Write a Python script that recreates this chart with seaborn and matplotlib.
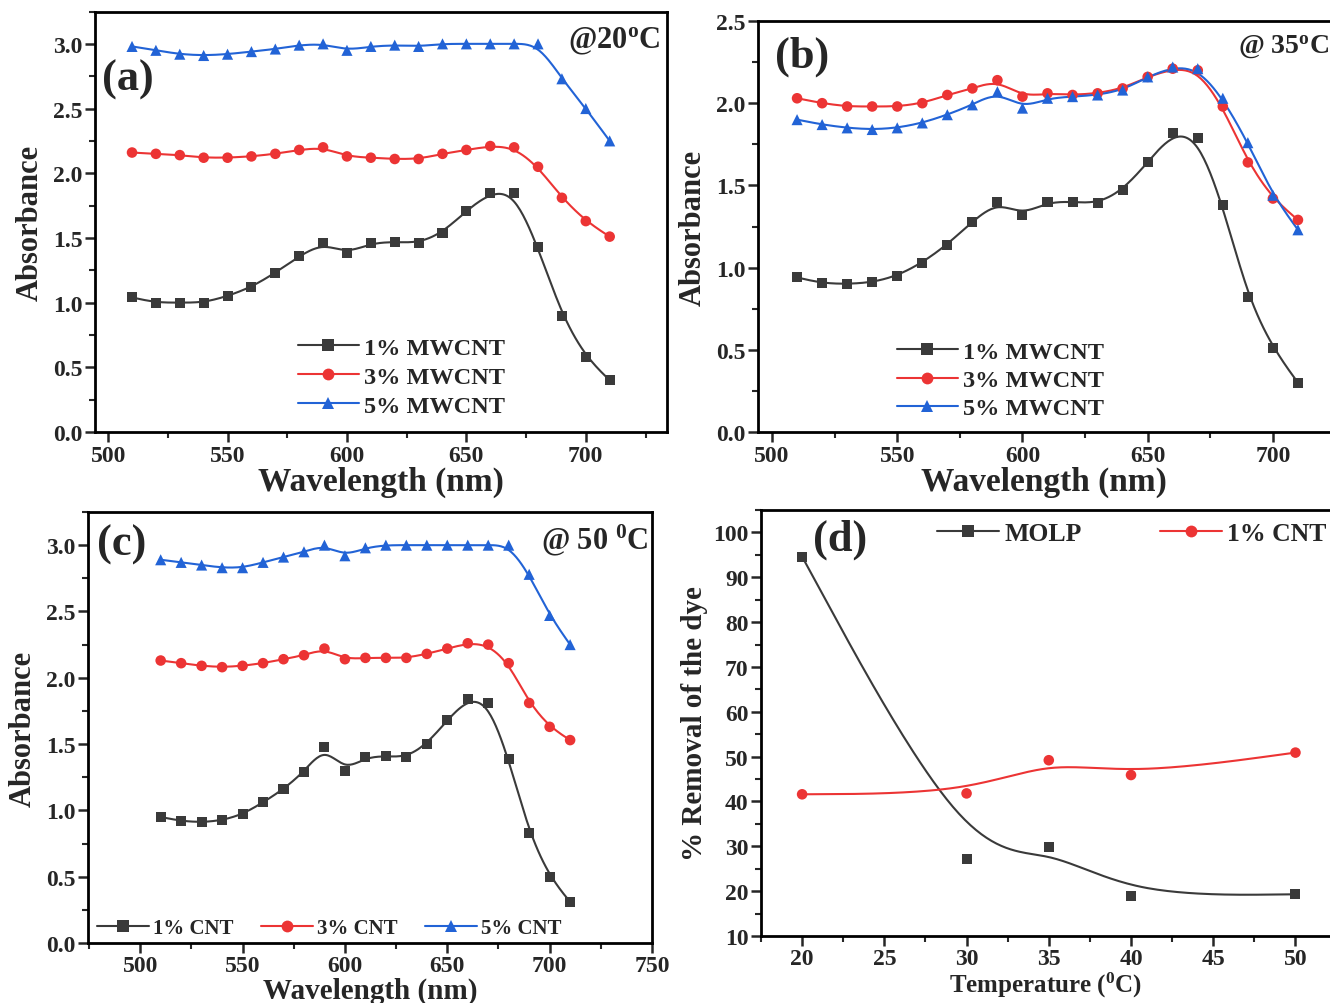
import numpy as np
import matplotlib
matplotlib.use("Agg")
import matplotlib.pyplot as plt
import seaborn as sns
from matplotlib.lines import Line2D
from matplotlib.ticker import MultipleLocator

# ---- data ----
wavelength = [510, 520, 530, 540, 550, 560, 570, 580, 590, 600, 610,
              620, 630, 640, 650, 660, 670, 680, 690, 700, 710]

a_1pct = [1.04, 1.00, 1.00, 1.00, 1.05, 1.12, 1.23, 1.36, 1.46, 1.38, 1.46,
          1.47, 1.46, 1.54, 1.71, 1.85, 1.85, 1.43, 0.90, 0.58, 0.40]
a_3pct = [2.16, 2.15, 2.14, 2.12, 2.12, 2.13, 2.15, 2.18, 2.20, 2.13, 2.12,
          2.11, 2.11, 2.15, 2.18, 2.21, 2.20, 2.05, 1.81, 1.63, 1.51]
a_5pct = [2.98, 2.95, 2.92, 2.91, 2.92, 2.94, 2.96, 2.99, 3.00, 2.95, 2.98,
          2.99, 2.98, 3.00, 3.00, 3.00, 3.00, 3.00, 2.73, 2.50, 2.25]

b_1pct = [0.94, 0.905, 0.90, 0.91, 0.95, 1.03, 1.14, 1.28, 1.40, 1.32, 1.40,
          1.40, 1.39, 1.47, 1.64, 1.82, 1.79, 1.38, 0.82, 0.51, 0.30]
b_3pct = [2.03, 2.00, 1.98, 1.98, 1.98, 2.00, 2.05, 2.09, 2.14, 2.04, 2.06,
          2.05, 2.06, 2.09, 2.16, 2.21, 2.20, 1.98, 1.64, 1.42, 1.29]
b_5pct = [1.90, 1.87, 1.85, 1.84, 1.85, 1.88, 1.93, 1.99, 2.07, 1.97, 2.03,
          2.04, 2.05, 2.08, 2.16, 2.22, 2.21, 2.03, 1.76, 1.44, 1.23]

c_1pct = [0.95, 0.92, 0.91, 0.925, 0.97, 1.06, 1.16, 1.29, 1.48, 1.30, 1.40,
          1.41, 1.40, 1.50, 1.68, 1.84, 1.81, 1.39, 0.83, 0.50, 0.31]
c_3pct = [2.13, 2.11, 2.09, 2.08, 2.09, 2.11, 2.14, 2.17, 2.22, 2.14, 2.15,
          2.15, 2.15, 2.18, 2.22, 2.26, 2.25, 2.11, 1.81, 1.63, 1.53]
c_5pct = [2.89, 2.87, 2.85, 2.83, 2.83, 2.87, 2.91, 2.95, 3.00, 2.92, 2.98,
          3.00, 3.00, 3.00, 3.00, 3.00, 3.00, 3.00, 2.78, 2.47, 2.25]

temperature = [20, 30, 35, 40, 50]
removal_molp = [94.6, 27.1, 29.9, 18.9, 19.3]
removal_cnt = [41.6, 41.8, 49.2, 45.9, 50.9]

mwcnt_labels = ["1% MWCNT", "3% MWCNT", "5% MWCNT"]
cnt_labels = ["1% CNT", "3% CNT", "5% CNT"]

# ---- styling ----
sns.set_style("ticks")
plt.rcParams["font.family"] = ["Liberation Serif", "DejaVu Serif"]
plt.rcParams["font.weight"] = "bold"
plt.rcParams["axes.labelweight"] = "bold"
plt.rcParams["mathtext.fontset"] = "custom"
plt.rcParams["mathtext.rm"] = "Liberation Serif:bold"
plt.rcParams["mathtext.it"] = "Liberation Serif:bold:italic"
plt.rcParams["mathtext.bf"] = "Liberation Serif:bold"
plt.rcParams["mathtext.default"] = "rm"

GRAY = "#3a3a3a"
RED = "#ec3434"
BLUE = "#2263d6"
colors = [GRAY, RED, BLUE]
markers = ["s", "o", "^"]
msizes = [52, 58, 64]

W, H = 1330, 1004
fig = plt.figure(figsize=(W / 100, H / 100), dpi=100)


def ax_at(left, top, right, bottom):
    return fig.add_axes([left / W, 1 - bottom / H, (right - left) / W, (bottom - top) / H])


def bspline(x, y, n=16):
    """clamped uniform cubic B-spline using the points as control points"""
    px = np.r_[x[0], x[0], x, x[-1], x[-1]].astype(float)
    py = np.r_[y[0], y[0], y, y[-1], y[-1]].astype(float)
    t = np.linspace(0, 1, n, endpoint=False)
    b0 = (1 - t) ** 3 / 6
    b1 = (3 * t ** 3 - 6 * t ** 2 + 4) / 6
    b2 = (-3 * t ** 3 + 3 * t ** 2 + 3 * t + 1) / 6
    b3 = t ** 3 / 6
    xs, ys = [], []
    for i in range(len(px) - 3):
        xs.append(b0 * px[i] + b1 * px[i + 1] + b2 * px[i + 2] + b3 * px[i + 3])
        ys.append(b0 * py[i] + b1 * py[i + 1] + b2 * py[i + 2] + b3 * py[i + 3])
    xs.append([px[-1]])
    ys.append([py[-1]])
    return np.concatenate(xs), np.concatenate(ys)


def style_axes(ax, show_right=True):
    for side in ["left", "bottom", "top", "right"]:
        ax.spines[side].set_linewidth(2.0)
        ax.spines[side].set_color("black")
    ax.spines["right"].set_visible(show_right)
    ax.tick_params(which="major", direction="out", length=7, width=1.8,
                   labelsize=17, pad=2, top=False, right=False)
    ax.tick_params(which="minor", direction="out", length=4, width=1.5,
                   top=False, right=False)
    for lab in ax.get_xticklabels() + ax.get_yticklabels():
        lab.set_fontweight("bold")


def draw_series(ax, x, ys):
    for y, c, m, s in zip(ys, colors, markers, msizes):
        sx, sy = bspline(x, y)
        sns.lineplot(x=sx, y=sy, ax=ax, color=c, lw=1.5, sort=False, estimator=None)
        sns.scatterplot(x=x, y=y, ax=ax, color=c, marker=m, s=s, edgecolor="none", zorder=3)


def handles(labels, n):
    return [Line2D([0], [0], color=colors[i], marker=markers[i], ms=8.5, lw=1.5,
                   markeredgewidth=0, label=labels[i]) for i in range(n)]


def spectrum_axes(ax, xlim, ylim):
    ax.set_xlim(*xlim)
    ax.set_ylim(*ylim)
    ax.xaxis.set_major_locator(MultipleLocator(50))
    ax.xaxis.set_minor_locator(MultipleLocator(25))
    ax.yaxis.set_major_locator(MultipleLocator(0.5))
    ax.yaxis.set_minor_locator(MultipleLocator(0.25))
    ax.yaxis.set_major_formatter(matplotlib.ticker.FormatStrFormatter("%.1f"))


# ---- (a) 20 C ----
ax1 = ax_at(95, 12.5, 667, 433)
draw_series(ax1, wavelength, [a_1pct, a_3pct, a_5pct])
spectrum_axes(ax1, (494.5, 734), (0, 3.25))
style_axes(ax1)
ax1.set_xlabel("Wavelength (nm)", fontsize=24, labelpad=0)
ax1.set_ylabel("Absorbance", fontsize=22, labelpad=6)
ax1.legend(handles=handles(mwcnt_labels, 3), loc="upper left",
           bbox_to_anchor=(0.355, 0.226), frameon=False, fontsize=17.5,
           handlelength=2.5, handletextpad=0.2, labelspacing=0.28,
           borderpad=0, borderaxespad=0)
ax1.text(0.012, 0.84, "(a)", transform=ax1.transAxes, fontsize=32,
         fontweight="bold", ha="left", va="center")
ax1.text(0.988, 0.93, "@20$^{\\rm o}$C", transform=ax1.transAxes, fontsize=22,
         fontweight="bold", ha="right", va="center")

# ---- (b) 35 C ----
ax2 = ax_at(758, 22, 1330, 433)
draw_series(ax2, wavelength, [b_1pct, b_3pct, b_5pct])
spectrum_axes(ax2, (494.4, 722.8), (0, 2.5))
style_axes(ax2, show_right=False)
ax2.set_xlabel("Wavelength (nm)", fontsize=24, labelpad=0)
ax2.set_ylabel("Absorbance", fontsize=22, labelpad=6)
ax2.legend(handles=handles(mwcnt_labels, 3), loc="upper left",
           bbox_to_anchor=(0.243, 0.222), frameon=False, fontsize=17.5,
           handlelength=2.5, handletextpad=0.2, labelspacing=0.26,
           borderpad=0, borderaxespad=0)
ax2.text(0.03, 0.915, "(b)", transform=ax2.transAxes, fontsize=32,
         fontweight="bold", ha="left", va="center")
ax2.text(0.999, 0.94, "@ 35$^{\\rm o}$C", transform=ax2.transAxes, fontsize=20,
         fontweight="bold", ha="right", va="center")

# ---- (c) 50 C ----
ax3 = ax_at(88, 513, 652, 944)
draw_series(ax3, wavelength, [c_1pct, c_3pct, c_5pct])
spectrum_axes(ax3, (474.5, 750), (0, 3.25))
style_axes(ax3)
ax3.set_xlabel("Wavelength (nm)", fontsize=21, labelpad=0)
ax3.set_ylabel("Absorbance", fontsize=22, labelpad=6)
ax3.legend(handles=handles(cnt_labels, 3), loc="lower left",
           bbox_to_anchor=(0.016, 0.012), frameon=False, fontsize=15, ncol=3,
           handlelength=2.5, handletextpad=0.2, columnspacing=1.3,
           borderpad=0, borderaxespad=0)
ax3.text(0.016, 0.926, "(c)", transform=ax3.transAxes, fontsize=32,
         fontweight="bold", ha="left", va="center")
ax3.text(0.993, 0.937, "@ 50 $^{\\rm 0}$C", transform=ax3.transAxes, fontsize=22,
         fontweight="bold", ha="right", va="center")

# ---- (d) removal vs temperature ----
ax4 = ax_at(761, 511, 1330, 937)
for y, c, m, s in [(removal_molp, GRAY, "s", 52), (removal_cnt, RED, "o", 58)]:
    sx, sy = bspline(temperature, y, n=40)
    sns.lineplot(x=sx, y=sy, ax=ax4, color=c, lw=1.5, sort=False, estimator=None)
    sns.scatterplot(x=temperature, y=y, ax=ax4, color=c, marker=m, s=s,
                    edgecolor="none", zorder=3)
ax4.set_xlim(17.5, 52.1)
ax4.set_ylim(10, 105)
ax4.xaxis.set_major_locator(MultipleLocator(5))
ax4.xaxis.set_minor_locator(MultipleLocator(2.5))
ax4.yaxis.set_major_locator(MultipleLocator(10))
ax4.yaxis.set_minor_locator(MultipleLocator(5))
style_axes(ax4, show_right=False)
ax4.set_xlabel("Temperature ($^{\\rm 0}$C)", fontsize=18, labelpad=0)
ax4.set_ylabel("% Removal of the dye", fontsize=21, labelpad=4)
d_handles = [Line2D([0], [0], color=GRAY, marker="s", ms=8.5, lw=1.5, markeredgewidth=0, label="MOLP"),
             Line2D([0], [0], color=RED, marker="o", ms=8.5, lw=1.5, markeredgewidth=0, label="1% CNT")]
ax4.legend(handles=d_handles, loc="upper left", bbox_to_anchor=(0.31, 0.972),
           frameon=False, fontsize=18.5, ncol=2, handlelength=2.4,
           handletextpad=0.2, columnspacing=3.05, borderpad=0, borderaxespad=0)
ax4.text(0.091, 0.932, "(d)", transform=ax4.transAxes, fontsize=32,
         fontweight="bold", ha="left", va="center")

fig.savefig("out.png", dpi=100)
